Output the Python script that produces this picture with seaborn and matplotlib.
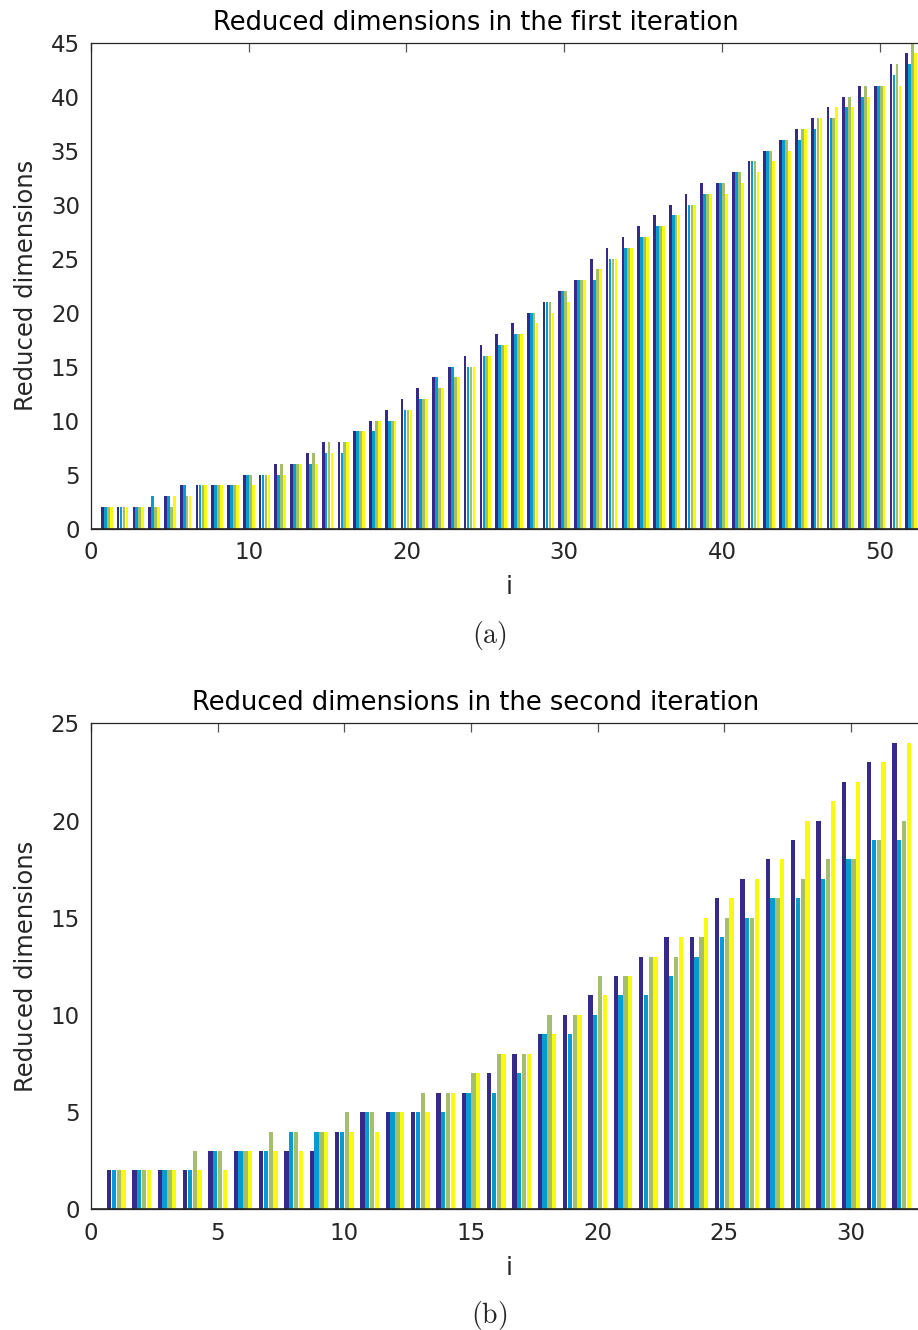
import numpy as np
import pandas as pd
import matplotlib
matplotlib.use("Agg")
import matplotlib.pyplot as plt
import seaborn as sns

# ---- data: reduced dimensions per index i, four runs each ----
first_i = list(range(1, 53))
first_run1 = [2, 2, 2, 2, 3, 4, 4, 4, 4, 5, 5, 6, 6, 7, 8, 8, 9, 10, 11, 12,
              13, 14, 15, 16, 17, 18, 19, 20, 21, 22, 23, 25, 26, 27, 28, 29,
              30, 31, 32, 32, 33, 34, 35, 36, 37, 38, 39, 40, 41, 41, 43, 44]
first_run2 = [2, 2, 2, 3, 3, 4, 4, 4, 4, 5, 5, 5, 6, 6, 7, 7, 9, 9, 10, 11,
              12, 14, 15, 15, 16, 17, 18, 20, 21, 22, 23, 23, 25, 26, 27, 28,
              29, 30, 31, 32, 33, 34, 35, 36, 36, 37, 38, 39, 40, 41, 42, 43]
first_run3 = [2, 2, 2, 2, 2, 3, 4, 4, 4, 5, 5, 6, 6, 7, 8, 8, 9, 10, 10, 11,
              12, 13, 14, 15, 16, 17, 18, 20, 21, 22, 23, 24, 25, 26, 27, 28,
              29, 30, 31, 32, 33, 34, 35, 36, 37, 38, 38, 40, 41, 41, 43, 45]
first_run4 = [2, 2, 2, 2, 3, 3, 4, 4, 4, 4, 5, 5, 6, 6, 7, 8, 9, 10, 10, 11,
              12, 13, 14, 15, 16, 17, 18, 19, 20, 21, 23, 24, 25, 26, 27, 28,
              29, 30, 31, 31, 32, 33, 34, 35, 37, 38, 39, 39, 40, 41, 41, 44]

second_i = list(range(1, 33))
second_run1 = [2, 2, 2, 2, 3, 3, 3, 3, 3, 4, 5, 5, 5, 6, 6, 7, 8, 9, 10, 11,
               12, 13, 14, 14, 16, 17, 18, 19, 20, 22, 23, 24]
second_run2 = [2, 2, 2, 2, 3, 3, 3, 4, 4, 4, 5, 5, 5, 5, 6, 6, 7, 9, 9, 10,
               11, 11, 12, 13, 14, 15, 16, 16, 17, 18, 19, 19]
second_run3 = [2, 2, 2, 3, 3, 3, 4, 4, 4, 5, 5, 5, 6, 6, 7, 8, 8, 10, 10, 12,
               12, 13, 13, 14, 15, 15, 16, 17, 18, 18, 19, 20]
second_run4 = [2, 2, 2, 2, 2, 3, 3, 3, 4, 4, 4, 5, 5, 6, 7, 8, 8, 9, 10, 11,
               12, 13, 14, 15, 16, 17, 18, 20, 21, 22, 23, 24]

run_names = ["run 1", "run 2", "run 3", "run 4"]
parula4 = ["#352A87", "#079CCF", "#A5BE6B", "#F9FB0E"]


def long_frame(idx, runs):
    parts = []
    for name, vals in zip(run_names, runs):
        parts.append(pd.DataFrame({"i": idx, "dim": vals, "run": name}))
    return pd.concat(parts, ignore_index=True)


df_first = long_frame(first_i, [first_run1, first_run2, first_run3, first_run4])
df_second = long_frame(second_i, [second_run1, second_run2, second_run3, second_run4])

sns.set_style("white")
plt.rcParams["font.family"] = ["DejaVu Sans"]
plt.rcParams["mathtext.fontset"] = "cm"

W, H = 918, 1330
fig = plt.figure(figsize=(W / 100, H / 100), dpi=100)

ax_w = 836 / W
ax_h = 486 / H
ax1 = fig.add_axes([91 / W, 1 - 528.7 / H, ax_w, ax_h])
ax2 = fig.add_axes([91 / W, 1 - 1209.3 / H, ax_w, ax_h])

spine_col = "#262626"
panels = [
    (ax1, df_first, (0, 53), (0, 45), np.arange(0, 51, 10), np.arange(0, 46, 5),
     "Reduced dimensions in the first iteration", r"$\mathrm{(a)}$", 635),
    (ax2, df_second, (0, 33), (0, 25), np.arange(0, 31, 5), np.arange(0, 26, 5),
     "Reduced dimensions in the second iteration", r"$\mathrm{(b)}$", 1315),
]

for ax, df, xl, yl, xt, yt, title, cap, cap_y in panels:
    sns.barplot(data=df, x="i", y="dim", hue="run", native_scale=True,
                palette=parula4, saturation=1, width=0.75, gap=0.08,
                errorbar=None, legend=False, linewidth=0, ax=ax)
    ax.set_xlim(*xl)
    ax.set_ylim(*yl)
    ax.set_xticks(xt)
    ax.set_yticks(yt)
    ax.tick_params(direction="in", length=6.5, width=0.9, color="#555555",
                   labelsize=16.5, labelcolor="#262626", top=True, right=True,
                   pad=8)
    ax.tick_params(axis="x", pad=9)
    for s in ax.spines.values():
        s.set_visible(True)
        s.set_color(spine_col)
        s.set_linewidth(0.9)
    ax.axhline(0, color=spine_col, lw=1.2, zorder=5)
    ax.set_xlabel("i", fontsize=18, color="#262626", labelpad=8)
    ax.set_ylabel("Reduced dimensions", fontsize=17.5, color="#262626", labelpad=9)
    ax.set_title(title, fontsize=18.5, color="black", x=0.4605, pad=9.5)
    fig.text(489 / W, 1 - cap_y / H, cap, fontsize=20, ha="center", va="center")

fig.savefig("out.png", dpi=100)
